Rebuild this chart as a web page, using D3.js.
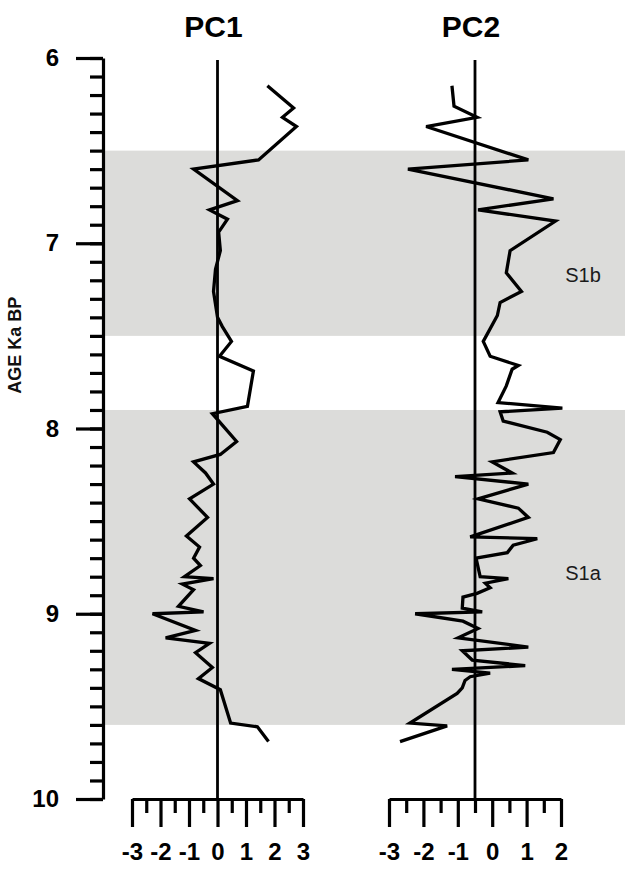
<!DOCTYPE html>
<html>
<head>
<meta charset="utf-8">
<script src="https://cdn.jsdelivr.net/npm/d3@7"></script>
<style>
  body { margin: 0; background: #fff; }
  svg { display: block; font-family: "Liberation Sans", Arial, sans-serif; }
  .axis path, .axis line { stroke: #000; stroke-width: 3.2; }
  .axis text { font-weight: bold; font-size: 24px; fill: #000; font-family: "Liberation Sans", Arial, sans-serif; }
  .band { fill: #dcdcda; }
  .zero { stroke: #000; stroke-width: 2.8; }
  .trace { fill: none; stroke: #000; stroke-width: 3.3; stroke-linejoin: miter; }
  .title { font-weight: bold; font-size: 30px; text-anchor: middle; }
</style>
</head>
<body>
<svg id="chart" width="625" height="874"></svg>
<script>
// age ticks (ka BP)
const ageTicks = [6, 7, 8, 9, 10]
const ageMinor = d3.range(60, 101).map(i => i / 10)

// sapropel bands
const bandNames = ['S1b', 'S1a']
const bandTop = [6.5, 7.9]
const bandBottom = [7.5, 9.6]
const bandLabelAge = [7.17, 8.78]

// PC1 series
const pc1Age = [6.15, 6.27, 6.32, 6.37, 6.55, 6.60, 6.77, 6.82, 6.87, 6.94, 7.04, 7.14, 7.26, 7.40, 7.45, 7.53,
  7.61, 7.69, 7.88, 7.92, 8.07, 8.14, 8.18, 8.24, 8.30, 8.38, 8.48, 8.58, 8.64, 8.70, 8.74, 8.80, 8.81, 8.84,
  8.87, 8.96, 8.99, 9.00, 9.09, 9.13, 9.16, 9.21, 9.29, 9.35, 9.41, 9.59, 9.61, 9.69]
const pc1Value = [1.75, 2.67, 2.28, 2.77, 1.44, -0.84, 0.70, -0.28, 0.35, 0.04, 0.10, -0.07, -0.14, 0.00, 0.17, 0.49,
  0.07, 1.26, 1.05, -0.18, 0.67, 0.10, -0.84, -0.42, -0.14, -0.98, -0.35, -1.09, -0.63, -0.84, -0.60, -1.16, -0.14, -1.23,
  -0.84, -1.37, -0.49, -2.28, -0.77, -1.82, -0.28, -0.77, -0.18, -0.67, 0.10, 0.46, 1.40, 1.79]

// PC2 series
const pc2Age = [6.15, 6.26, 6.32, 6.37, 6.55, 6.60, 6.76, 6.82, 6.88, 7.04, 7.16, 7.26, 7.32, 7.39, 7.53, 7.61,
  7.66, 7.68, 7.77, 7.86, 7.89, 7.91, 7.96, 8.02, 8.06, 8.13, 8.18, 8.24, 8.26, 8.30, 8.38, 8.43, 8.48, 8.585,
  8.595, 8.63, 8.67, 8.70, 8.80, 8.81, 8.835, 8.86, 8.89, 8.91, 8.97, 8.99, 9.00, 9.04, 9.08, 9.13, 9.18, 9.20,
  9.25, 9.28, 9.30, 9.32, 9.34, 9.36, 9.40, 9.43, 9.59, 9.605, 9.69]
const pc2Value = [-1.17, -1.11, -0.44, -1.92, 1.05, -2.45, 1.78, -0.41, 1.84, 0.52, 0.41, 0.85, 0.23, 0.15, -0.26, -0.06,
  0.76, 0.58, 0.41, 0.17, 2.04, 0.23, 0.32, 1.60, 1.98, 1.78, 0.00, 0.58, -1.08, 1.05, -0.41, 0.76, 1.05, -0.64,
  1.31, 0.61, 0.44, -0.47, -0.35, 0.47, -0.20, -0.06, -0.44, -0.85, -0.87, -0.29, -2.24, -0.85, -0.41, -0.99, 1.05, -0.87,
  -0.58, 0.96, -1.17, -0.06, -0.64, -0.79, -0.87, -1.02, -2.39, -1.31, -2.68]

// horizontal axis ticks
const pc1Ticks = [-3, -2, -1, 0, 1, 2, 3]
const pc2Ticks = [-3, -2, -1, 0, 1, 2]
const pc1Ref = 0
const pc2Ref = -0.5

const svg = d3.select('#chart')

const yScale = d3.scaleLinear().domain([6, 10]).range([58, 799])
const x1 = d3.scaleLinear().domain([-3, 3]).range([132, 303])
const x2 = d3.scaleLinear().domain([-3, 2]).range([389, 561])

// grey bands
svg.selectAll('.band')
  .data(bandNames)
  .enter()
  .append('rect')
  .classed('band', true)
  .attr('x', 104)
  .attr('width', 625 - 104)
  .attr('y', (d, i) => yScale(bandTop[i]))
  .attr('height', (d, i) => yScale(bandBottom[i]) - yScale(bandTop[i]))

svg.selectAll('.bandLabel')
  .data(bandNames)
  .enter()
  .append('text')
  .classed('bandLabel', true)
  .text(d => d)
  .attr('x', 583)
  .attr('y', (d, i) => yScale(bandLabelAge[i]) + 7)
  .attr('text-anchor', 'middle')
  .style('font-size', '20px')
  .style('fill', '#1a1a1a')

// y axis: minor then major
svg.append('g')
  .attr('class', 'axis')
  .attr('transform', 'translate(103,0)')
  .call(d3.axisLeft(yScale).tickValues(ageMinor).tickSize(13).tickSizeOuter(0).tickFormat(''))

svg.append('g')
  .attr('class', 'axis')
  .attr('transform', 'translate(103,0)')
  .call(d3.axisLeft(yScale).tickValues(ageTicks).tickSize(27).tickSizeOuter(0).tickPadding(17).tickFormat(d => String(d)))
  .call(g => g.select('.domain').remove())

svg.append('text')
  .attr('transform', 'translate(21,' + yScale(7.55) + ') rotate(-90)')
  .attr('text-anchor', 'middle')
  .style('font-weight', 'bold')
  .style('font-size', '18px')
  .style('fill', '#111')
  .text('AGE Ka BP')

function drawPanel(xScale, ticks, ref, ages, values, title) {
  const minor = d3.range(ticks[0] + 0.5, ticks[ticks.length - 1], 1)

  svg.append('g')
    .attr('class', 'axis')
    .attr('transform', 'translate(0,799)')
    .call(d3.axisBottom(xScale).tickValues(minor).tickSize(14).tickSizeOuter(0).tickFormat(''))

  svg.append('g')
    .attr('class', 'axis')
    .attr('transform', 'translate(0,799)')
    .call(d3.axisBottom(xScale).tickValues(ticks).tickSize(28).tickSizeOuter(0).tickPadding(16).tickFormat(d => String(d)))
    .call(g => g.select('.domain').remove())

  svg.append('line')
    .classed('zero', true)
    .attr('x1', xScale(ref))
    .attr('x2', xScale(ref))
    .attr('y1', 60)
    .attr('y2', 799)

  const line = d3.line()
    .x((d, i) => xScale(values[i]))
    .y(d => yScale(d))

  svg.append('path')
    .datum(ages)
    .classed('trace', true)
    .attr('d', line)

  svg.append('text')
    .classed('title', true)
    .attr('x', xScale(ref) - 4)
    .attr('y', 37)
    .text(title)
}

drawPanel(x1, pc1Ticks, pc1Ref, pc1Age, pc1Value, 'PC1')
drawPanel(x2, pc2Ticks, pc2Ref, pc2Age, pc2Value, 'PC2')
</script>
</body>
</html>
